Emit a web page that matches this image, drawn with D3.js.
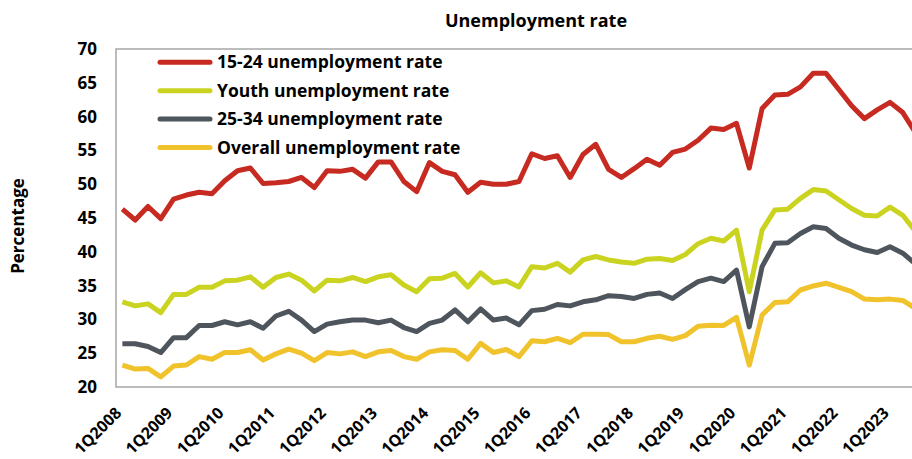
<!DOCTYPE html>
<html>
<head>
<meta charset="utf-8">
<script src="https://cdn.jsdelivr.net/npm/d3@7"></script>
<style>
  body { margin: 0; background: #fff; }
  text { font-family: "Open Sans", "DejaVu Sans", sans-serif; font-weight: bold; fill: #000; }
</style>
</head>
<body>
<div id="chart"></div>
<script>
  // quarters 1Q2008 .. 3Q2023
  const quarters = [];
  for (let y = 2008; y <= 2023; y++) {
    for (let q = 1; q <= 4; q++) {
      if (y === 2023 && q > 3) break;
      quarters.push(q + "Q" + y);
    }
  }

  const rate1524 = [46.3, 44.7, 46.7, 44.9, 47.8, 48.4, 48.8, 48.6, 50.5, 52.0, 52.4, 50.1, 50.2, 50.4, 51.0, 49.5,
    52.0, 51.9, 52.2, 50.9, 53.3, 53.3, 50.4, 48.9, 53.2, 51.9, 51.4, 48.8, 50.3, 50.0, 50.0, 50.4,
    54.5, 53.8, 54.2, 51.0, 54.4, 55.9, 52.2, 51.0, 52.3, 53.7, 52.8, 54.7, 55.2, 56.5, 58.3, 58.1,
    59.0, 52.4, 61.2, 63.2, 63.3, 64.4, 66.4, 66.4, 64.0, 61.6, 59.7, 61.0, 62.1, 60.6, 57.6];

  const youthRate = [32.6, 32.0, 32.3, 31.0, 33.7, 33.7, 34.75, 34.75, 35.7, 35.8, 36.3, 34.75, 36.2, 36.7, 35.8, 34.2,
    35.8, 35.7, 36.2, 35.6, 36.3, 36.6, 35.1, 34.1, 36.0, 36.1, 36.8, 34.8, 36.9, 35.4, 35.7, 34.8,
    37.8, 37.6, 38.3, 37.0, 38.8, 39.3, 38.8, 38.5, 38.3, 38.9, 39.0, 38.7, 39.6, 41.2, 42.0, 41.6,
    43.2, 34.1, 43.2, 46.2, 46.3, 47.9, 49.2, 49.0, 47.7, 46.4, 45.4, 45.3, 46.6, 45.4, 43.0];

  const rate2534 = [26.4, 26.4, 26.0, 25.1, 27.3, 27.3, 29.1, 29.1, 29.65, 29.2, 29.65, 28.7, 30.5, 31.2, 29.9, 28.2,
    29.3, 29.65, 29.9, 29.9, 29.5, 29.9, 28.8, 28.2, 29.4, 29.9, 31.4, 29.65, 31.55, 29.9, 30.2, 29.2,
    31.3, 31.5, 32.2, 32.0, 32.6, 32.9, 33.5, 33.4, 33.1, 33.7, 33.9, 33.1, 34.4, 35.6, 36.1, 35.6,
    37.3, 28.9, 37.8, 41.25, 41.35, 42.7, 43.7, 43.45, 42.0, 41.0, 40.3, 39.9, 40.75, 39.8, 38.2];

  const overallRate = [23.25, 22.65, 22.75, 21.5, 23.1, 23.25, 24.5, 24.1, 25.1, 25.1, 25.5, 24.0, 24.9, 25.6, 25.0, 23.9,
    25.1, 24.9, 25.2, 24.5, 25.2, 25.4, 24.5, 24.1, 25.2, 25.5, 25.4, 24.1, 26.45, 25.1, 25.55, 24.5,
    26.85, 26.7, 27.2, 26.55, 27.8, 27.8, 27.75, 26.7, 26.7, 27.2, 27.5, 27.05, 27.6, 29.0, 29.15, 29.1,
    30.3, 23.25, 30.65, 32.5, 32.6, 34.35, 34.95, 35.35, 34.75, 34.1, 33.0, 32.9, 33.0, 32.8, 31.6];

  const yTicks = [20, 25, 30, 35, 40, 45, 50, 55, 60, 65, 70];

  const series = [
    { name: "15-24 unemployment rate", values: rate1524, color: "#c62a21" },
    { name: "Youth unemployment rate", values: youthRate, color: "#cad420" },
    { name: "25-34 unemployment rate", values: rate2534, color: "#4e555d" },
    { name: "Overall unemployment rate", values: overallRate, color: "#f0c22b" }
  ];

  const width = 912, height = 459;
  const plot = { left: 116, top: 49, right: 922, bottom: 387 };

  const svg = d3.select("#chart").append("svg")
      .attr("width", width)
      .attr("height", height);

  const x = d3.scalePoint().domain(quarters).range([plot.left, plot.right]).padding(0.5);
  const y = d3.scaleLinear().domain([20, 70]).range([plot.bottom, plot.top]);

  // plot border
  svg.append("rect")
      .attr("x", plot.left).attr("y", plot.top)
      .attr("width", plot.right - plot.left).attr("height", plot.bottom - plot.top)
      .attr("fill", "none").attr("stroke", "#a6a6a6").attr("stroke-width", 1.5);

  // y labels
  svg.selectAll("text.ytick")
    .data(yTicks)
    .enter().append("text")
      .attr("class", "ytick")
      .attr("x", 97)
      .attr("y", d => y(d))
      .attr("dy", "0.35em")
      .attr("text-anchor", "end")
      .style("font-size", "17px")
      .text(d => d);

  // x labels, one per year
  svg.selectAll("text.xtick")
    .data(quarters.filter(q => q.startsWith("1Q")))
    .enter().append("text")
      .attr("class", "xtick")
      .attr("transform", d => `translate(${x(d)},${plot.bottom + 27}) rotate(-45)`)
      .attr("text-anchor", "end")
      .style("font-size", "16px")
      .text(d => d);

  svg.append("text")
      .attr("transform", `translate(24,226) rotate(-90)`)
      .attr("text-anchor", "middle")
      .style("font-size", "17px")
      .text("Percentage");

  svg.append("text")
      .attr("x", 536).attr("y", 27)
      .attr("text-anchor", "middle")
      .style("font-size", "18px")
      .text("Unemployment rate");

  const line = d3.line()
      .x((d, i) => x(quarters[i]))
      .y(d => y(d));

  svg.selectAll("path.series")
    .data(series.slice().reverse())
    .enter().append("path")
      .attr("class", "series")
      .attr("d", d => line(d.values))
      .attr("fill", "none")
      .attr("stroke", d => d.color)
      .attr("stroke-width", 5)
      .attr("stroke-linejoin", "round");

  // legend
  const legend = svg.selectAll("g.legend")
    .data(series)
    .enter().append("g")
      .attr("class", "legend")
      .attr("transform", (d, i) => `translate(158,${62.3 + i * 28.4})`);

  legend.append("line")
      .attr("x1", 2).attr("x2", 52)
      .attr("stroke", d => d.color)
      .attr("stroke-width", 5)
      .attr("stroke-linecap", "round");

  legend.append("text")
      .attr("x", 59)
      .attr("dy", "0.35em")
      .style("font-size", "17.5px")
      .text(d => d.name);
</script>
</body>
</html>
